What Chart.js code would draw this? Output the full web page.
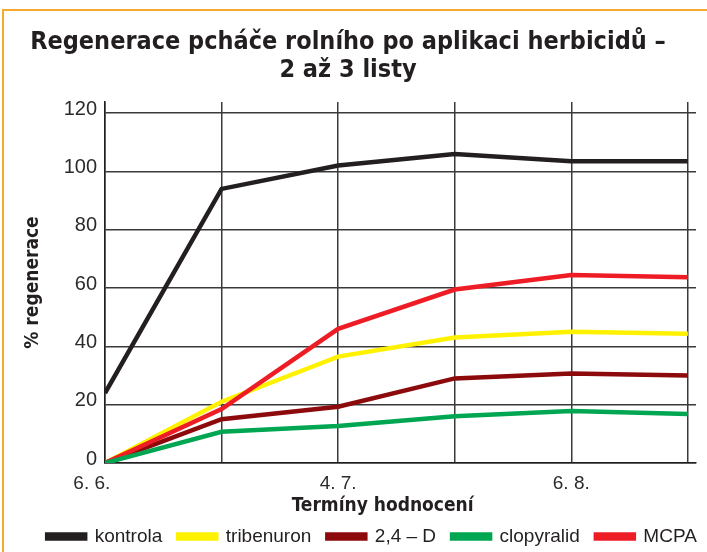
<!DOCTYPE html>
<html>
<head>
<meta charset="utf-8">
<script src="https://cdn.jsdelivr.net/npm/chart.js@4.4.1/dist/chart.umd.min.js"></script>
<style>
  html, body { margin: 0; padding: 0; background: #fff; }
  #wrap { width: 707px; height: 552px; }
</style>
</head>
<body>
<div id="wrap"><canvas id="regenChart" width="707" height="552"></canvas></div>
<script>
// terminy hodnoceni (kazdy druhy bez popisku)
var terms = ['6. 6.', '', '4. 7.', '', '6. 8.', ''];
var yTicks = [0, 20, 40, 60, 80, 100, 120];

var kontrola = [24, 94, 102, 106, 103.5, 103.5];
var tribenuron = [0, 21, 36.5, 43, 45, 44.3];
var d24 = [0, 15, 19.3, 29, 30.7, 30];
var clopyralid = [0, 10.7, 12.7, 16, 17.8, 16.8];
var mcpa = [0, 18.5, 46, 59.5, 64.5, 63.7];

var narrow = "'Liberation Sans Narrow', 'DejaVu Sans Condensed', 'Liberation Sans', sans-serif";
var plain = "'Liberation Sans', Arial, sans-serif";

function pts(arr) {
    return arr.map(function (v, i) { return { x: i, y: v }; });
}

function series(label, values, color, order) {
    return {
        label: label,
        data: pts(values),
        borderColor: color,
        backgroundColor: color,
        borderWidth: 4.5,
        pointRadius: 0,
        tension: 0,
        order: order
    };
}

// oranzovy ramecek kolem obrazku
var framePlugin = {
    id: 'frame',
    beforeDraw: function (chart) {
        var c = chart.ctx;
        c.save();
        c.strokeStyle = '#f6a930';
        c.lineWidth = 2;
        c.strokeRect(3, 10, 760, 600);
        c.restore();
    }
};

// posun legendy doprava jako v predloze
var legendShift = {
    id: 'legendShift',
    afterLayout: function (chart) {
        chart.legend.left += 24;
        chart.legend.right += 24;
    }
};

var ctx = document.getElementById('regenChart').getContext('2d');
var chart = new Chart(ctx, {
    type: 'line',
    data: {
        datasets: [
            series('kontrola', kontrola, '#231f20', 5),
            series('tribenuron', tribenuron, '#fff200', 4),
            series('2,4 – D', d24, '#8c0a0c', 3),
            series('clopyralid', clopyralid, '#00a651', 1),
            series('MCPA', mcpa, '#ee1c25', 2)
        ]
    },
    plugins: [framePlugin, legendShift],
    options: {
        responsive: false,
        animation: false,
        layout: { padding: { top: 0, left: 0, right: 11, bottom: -4 } },
        plugins: {
            title: {
                display: true,
                text: ['Regenerace pcháče rolního po aplikaci herbicidů –', '2 až 3 listy'],
                color: '#231f20',
                font: { family: narrow, size: 25, weight: 'bold', lineHeight: 1.12 },
                padding: { top: 28, bottom: 18 }
            },
            legend: {
                position: 'bottom',
                labels: {
                    boxWidth: 38,
                    boxHeight: 4,
                    padding: 16,
                    color: '#231f20',
                    font: { family: plain, size: 19 },
                    sort: function (a, b) { return a.datasetIndex - b.datasetIndex; }
                }
            },
            tooltip: { enabled: false }
        },
        scales: {
            x: {
                type: 'linear',
                min: 0,
                max: 5.07,
                afterBuildTicks: function (scale) {
                    scale.ticks = terms.map(function (t, i) { return { value: i }; });
                },
                afterFit: function (scale) { scale.height = 48; },
                grid: { color: '#3a3a3a', lineWidth: 1.5, drawTicks: false },
                border: { color: '#231f20', width: 1.5 },
                ticks: {
                    padding: 9,
                    maxRotation: 0,
                    autoSkip: false,
                    color: '#2b2b2b',
                    font: { family: plain, size: 19 },
                    // prvni popisek je v predloze posunut doleva
                    callback: function (v) { return v === 0 ? terms[v] + '     ' : terms[v]; }
                },
                title: {
                    display: true,
                    text: 'Termíny hodnocení      ',
                    color: '#231f20',
                    font: { family: narrow, size: 19, weight: 'bold', lineHeight: 1.2 },
                    padding: { top: 0, bottom: -6 }
                }
            },
            y: {
                min: 0,
                max: 123.8,
                afterBuildTicks: function (scale) {
                    scale.ticks = yTicks.map(function (v) { return { value: v }; });
                },
                afterFit: function (scale) { scale.width = 105; },
                grid: { color: '#3a3a3a', lineWidth: 1.5, drawTicks: false },
                border: { color: '#231f20', width: 1.5 },
                ticks: {
                    padding: 8,
                    labelOffset: -4,
                    color: '#2b2b2b',
                    font: { family: plain, size: 20 }
                },
                title: {
                    display: true,
                    text: '% regenerace',
                    color: '#231f20',
                    font: { family: narrow, size: 19, weight: 'bold', lineHeight: 1.2 },
                    padding: { top: 22, bottom: 0 }
                }
            }
        }
    }
});
</script>
</body>
</html>
